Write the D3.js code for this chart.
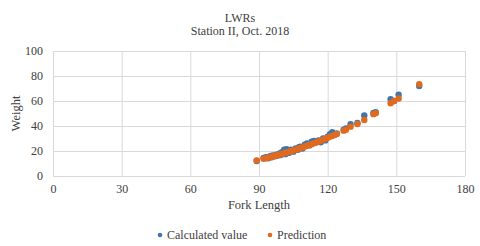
<!DOCTYPE html>
<html>
<head>
<meta charset="utf-8">
<script src="https://cdn.jsdelivr.net/npm/d3@7"></script>
<style>
  body { margin: 0; background: #fff; }
  svg text { font-family: "Liberation Serif", "DejaVu Serif", "Times New Roman", Times, serif; fill: #404040; }
</style>
</head>
<body>
<div id="chart"></div>
<script>
let width = 480;
let height = 246;
let margin = ({top: 51, right: 15, bottom: 70, left: 53});
let fontFam = "'Liberation Serif', 'DejaVu Serif', serif";

// fork length (x) for each fish
let lengths = [89, 92, 93, 94, 95, 95.5, 96, 97, 97.5, 98, 99, 99.5, 100, 101, 101.5, 102, 103, 103.5,
    104, 105, 106, 107, 107.5, 108, 109, 110, 111, 112, 113, 114, 115, 116, 117, 118, 119, 120,
    121, 122, 123, 124, 127, 128, 130, 133, 136, 140, 141, 147.5, 149, 151, 160];

// measured weights
let calculated = [12.0, 14.5, 15.0, 14.2, 16.0, 15.0, 16.5, 15.8, 17.0, 16.2, 18.0, 16.8, 19.0, 21.0, 17.5, 21.5, 18.5, 20.5,
    21.0, 19.5, 22.0, 21.0, 23.0, 23.5, 22.0, 25.0, 26.0, 24.5, 27.5, 28.0, 27.0, 28.5, 27.0, 30.0, 28.5, 31.5,
    33.5, 35.0, 33.0, 34.0, 37.0, 38.0, 41.5, 42.5, 48.5, 50.5, 51.0, 61.5, 60.0, 65.0, 72.0];

// predicted weights
let prediction = [12.5, 13.8, 14.2, 14.7, 15.2, 15.4, 15.7, 16.2, 16.4, 16.7, 17.2, 17.4, 17.7, 18.2, 18.5, 18.8, 19.3, 19.6,
    19.9, 20.5, 21.1, 21.7, 22.0, 22.3, 22.9, 23.6, 24.2, 24.9, 25.5, 26.2, 26.9, 27.6, 28.3, 29.1, 29.8, 30.6,
    31.4, 32.1, 32.9, 33.7, 36.3, 37.1, 39.5, 41.6, 44.8, 49.5, 50.3, 58.2, 60.0, 62.0, 73.5];

let xTicks = [0, 30, 60, 90, 120, 150, 180];
let yTicks = [0, 20, 40, 60, 80, 100];

let seriesNames = ["Calculated value", "Prediction"];
let colors = ["#3F76AE", "#E06A1E"];

let svg = d3.select("#chart").append("svg")
    .attr("width", width)
    .attr("height", height)
    .attr("font-family", fontFam);

let xScale = d3.scaleLinear().domain([0, 180]).range([margin.left, width - margin.right]);
let yScale = d3.scaleLinear().domain([0, 100]).range([height - margin.bottom, margin.top]);

// gridlines
svg.append("g")
    .attr("transform", "translate(0," + (height - margin.bottom) + ")")
    .call(d3.axisBottom(xScale).tickValues(xTicks).tickSize(-(height - margin.top - margin.bottom)).tickFormat(""))
    .call(g => g.select(".domain").remove())
    .call(g => g.selectAll("line").attr("stroke", "#d9d9d9"));

svg.append("g")
    .attr("transform", "translate(" + margin.left + ",0)")
    .call(d3.axisLeft(yScale).tickValues(yTicks).tickSize(-(width - margin.left - margin.right)).tickFormat(""))
    .call(g => g.select(".domain").remove())
    .call(g => g.selectAll("line").attr("stroke", "#d9d9d9"));

// tick labels
svg.append("g")
    .attr("transform", "translate(0," + (height - margin.bottom) + ")")
    .call(d3.axisBottom(xScale).tickValues(xTicks).tickSize(0).tickPadding(8))
    .attr("font-family", fontFam)
    .call(g => g.select(".domain").remove())
    .call(g => g.selectAll("text").attr("font-size", 12));

svg.append("g")
    .attr("transform", "translate(" + margin.left + ",0)")
    .call(d3.axisLeft(yScale).tickValues(yTicks).tickSize(0).tickPadding(10))
    .attr("font-family", fontFam)
    .call(g => g.select(".domain").remove())
    .call(g => g.selectAll("text").attr("font-size", 12));

// titles
svg.append("text").attr("x", 240).attr("y", 22).attr("text-anchor", "middle")
    .attr("font-size", 12).text("LWRs");
svg.append("text").attr("x", 240).attr("y", 35).attr("text-anchor", "middle")
    .attr("font-size", 12).text("Station II, Oct. 2018");

svg.append("text").attr("x", (margin.left + width - margin.right) / 2).attr("y", 209)
    .attr("text-anchor", "middle").attr("font-size", 12.5).text("Fork Length");

svg.append("text")
    .attr("transform", "translate(20," + ((margin.top + height - margin.bottom) / 2) + ") rotate(-90)")
    .attr("text-anchor", "middle").attr("font-size", 12.5).text("Weight");

// points
let series = [calculated, prediction];
series.forEach(function(vals, i) {
    svg.append("g").selectAll("circle")
        .data(lengths)
        .enter().append("circle")
        .attr("cx", d => xScale(d))
        .attr("cy", (d, j) => yScale(vals[j]))
        .attr("r", 3.2)
        .attr("fill", colors[i]);
});

// legend
let legendX = [160, 270];
seriesNames.forEach(function(name, i) {
    let g = svg.append("g").attr("transform", "translate(" + legendX[i] + ",235)");
    g.append("circle").attr("r", 2.3).attr("fill", colors[i]);
    g.append("text").attr("x", 7).attr("y", 4).attr("font-size", 12).text(name);
});
</script>
</body>
</html>
